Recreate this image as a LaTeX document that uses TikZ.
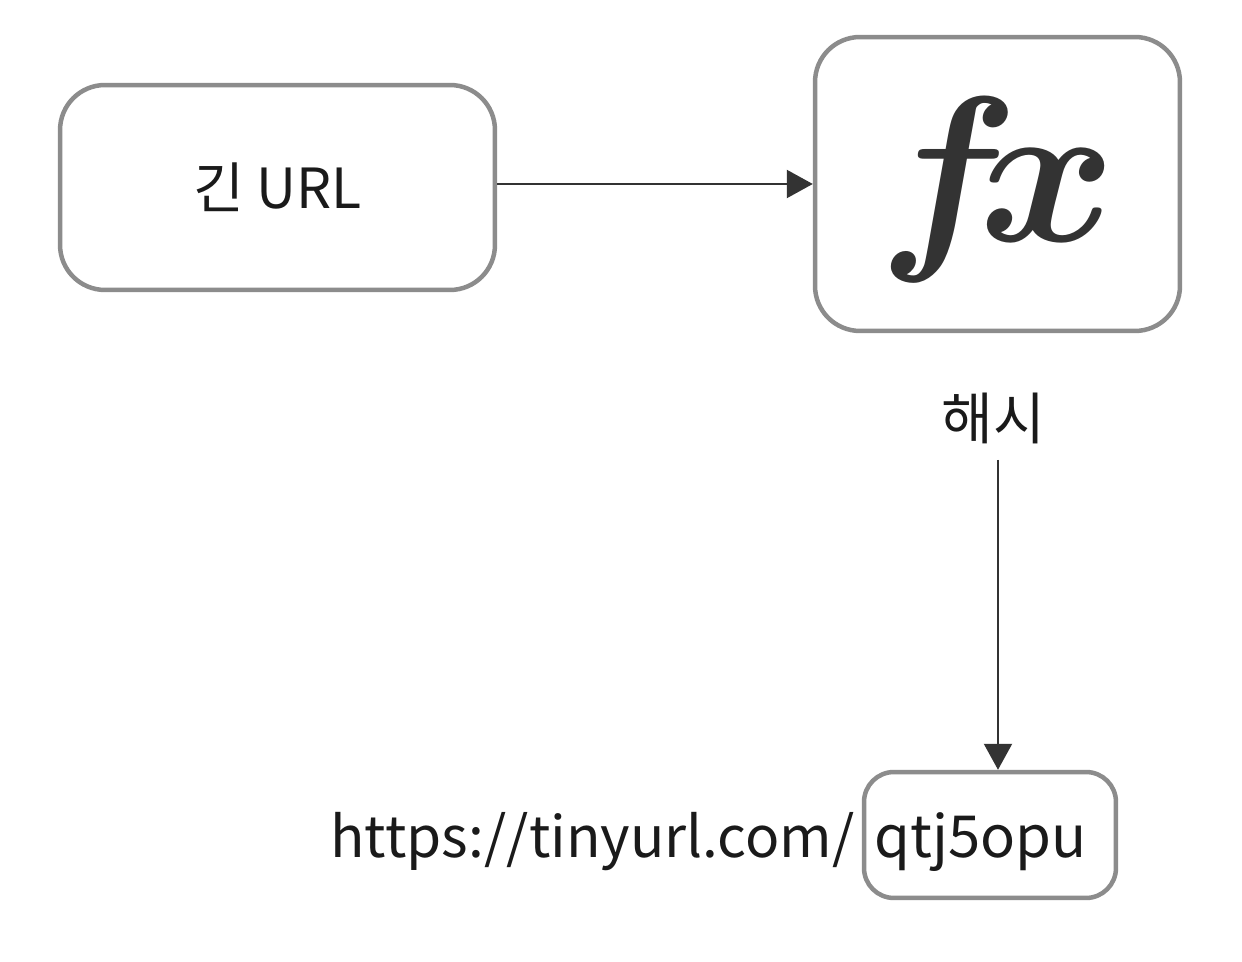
\documentclass[tikz,border=0pt]{standalone}
\usepackage{graphicx}
\usepackage{fontspec}
\setmainfont{Noto Sans CJK KR}
\usetikzlibrary{arrows.meta}
\definecolor{boxgray}{HTML}{8C8C8C}
\definecolor{linegray}{HTML}{333333}
\definecolor{txt}{HTML}{1A1A1A}
\tikzset{
  box/.style={draw=boxgray, line width=0.09cm, rounded corners=0.9cm, fill=white, text=txt},
  conn/.style={draw=linegray, line width=0.045cm, -{Triangle[length=0.52cm,width=0.56cm]}},
  lbl/.style={text=txt, inner sep=0pt}
}
\begin{document}
\begin{tikzpicture}[x=0.02cm,y=-0.02cm]
\useasboundingbox[fill=white] (0,0) rectangle (1242,962);
\node[box, minimum width=8.7cm, minimum height=4.1cm, font=\fontsize{31.5}{38}\selectfont] (long) at (277.5,187.5) {긴 URL};
\node[box, minimum width=7.3cm, minimum height=5.88cm] (fx) at (997.5,184) {};
\node[lbl, anchor=base, text=linegray] (fxt) at (997,242) {\scalebox{11.8}{\boldmath$f\!x$}};
\node[lbl, anchor=base, font=\fontsize{32}{38}\selectfont] (hash) at (993,440) {해시};
\coordinate (hstart) at (998,460);
\node[box, rounded corners=0.6cm, minimum width=5.04cm, minimum height=2.52cm] (short) at (990,835) {};
\node[lbl, anchor=base, font=\fontsize{33}{40}\selectfont] (code) at (981,858) {qtj5opu};
\node[lbl, anchor=base east, font=\fontsize{32.3}{40}\selectfont] (prefix) at (855,858) {https://tinyurl.com/};
\draw[conn] (long.east |- fx.west) -- (fx.west);
\draw[conn] (hstart) -- (hstart |- short.north);
\end{tikzpicture}
\end{document}
